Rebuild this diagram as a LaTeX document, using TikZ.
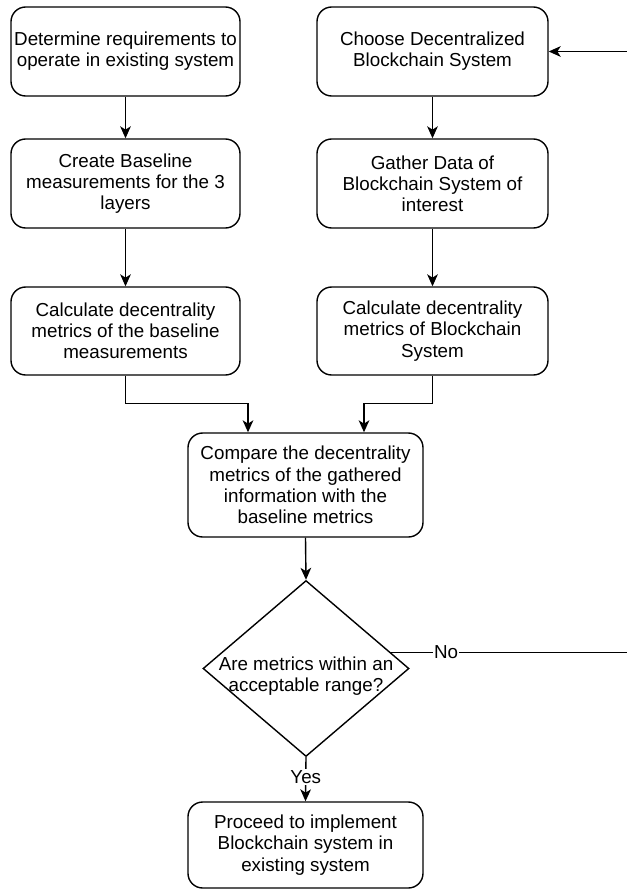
\documentclass[tikz,border=0pt]{standalone}
\usepackage{fontspec}
\setmainfont{Liberation Sans}
\usetikzlibrary{shapes.geometric,arrows.meta,calc}
\tikzset{
  txt/.style={font=\fontsize{14.1}{15.9}\selectfont},
  box/.style={draw, rounded corners=11pt, line width=1.05pt, align=center, inner sep=0pt, txt},
  arr/.style={line width=1.05pt, -{Stealth[length=9pt,width=8pt,inset=2.5pt]}},
  lbl/.style={fill=white, inner sep=1pt, txt},
}
\begin{document}
\begin{tikzpicture}[x=0.75pt,y=-0.75pt]
\useasboundingbox (0,0) rectangle (626,889);
\node[box, minimum width=171.75pt, minimum height=66.75pt] (b1) at (125.5,51.5) {Determine requirements to\\operate in existing system};
\node[box, minimum width=173.25pt, minimum height=66.75pt] (b2) at (432.5,51.5) {Choose Decentralized\\Blockchain System};
\node[box, minimum width=171.75pt, minimum height=66.75pt] (b3) at (125.5,183.5) {Create Baseline\\measurements for the 3\\layers};
\node[box, minimum width=173.25pt, minimum height=66.75pt] (b4) at (432.5,183.5) {Gather Data of\\Blockchain System of\\interest};
\node[box, minimum width=171.75pt, minimum height=66pt] (b5) at (125.5,331) {Calculate decentrality\\metrics of the baseline\\measurements};
\node[box, minimum width=173.25pt, minimum height=66pt] (b6) at (432.5,331) {Calculate decentrality\\metrics of Blockchain\\System};
\node[box, minimum width=176.25pt, minimum height=78pt] (cmp) at (305.5,485) {Compare the decentrality\\metrics of the gathered\\information with the\\baseline metrics};
\node[draw, diamond, line width=1.05pt, inner sep=0pt, minimum width=154.5pt, minimum height=132pt] (dec) at (306,668.5) {};
\node[txt, align=center, inner sep=0pt] (dectext) at ($(dec.center)+(0,8)$) {Are metrics within an\\acceptable range?};
\node[box, minimum width=176.25pt, minimum height=64.5pt] (fin) at (305.5,845) {Proceed to implement\\Blockchain system in\\existing system};

\draw[arr] (b1.south) -- (b3.north);
\draw[arr] (b3.south) -- (b5.north);
\draw[arr] (b2.south) -- (b4.north);
\draw[arr] (b4.south) -- (b6.north);
\draw[arr] (b5.south) -- ++(0,28) -| ($(cmp.north)+(-57.5,0)$);
\draw[arr] (b6.south) -- ++(0,28) -| ($(cmp.north)+(58.5,0)$);
\draw[arr] (cmp.south) -- (dec.north);
\draw[arr] (dec.south) -- node[lbl, pos=0.45] {Yes} (fin.north);
\coordinate (noStart) at ($(dec.east)!0.18!(dec.north)$);
\draw[arr] (noStart) -- node[lbl, pos=0.22] {No} ++(250,0) |- (b2.east);
\end{tikzpicture}
\end{document}
